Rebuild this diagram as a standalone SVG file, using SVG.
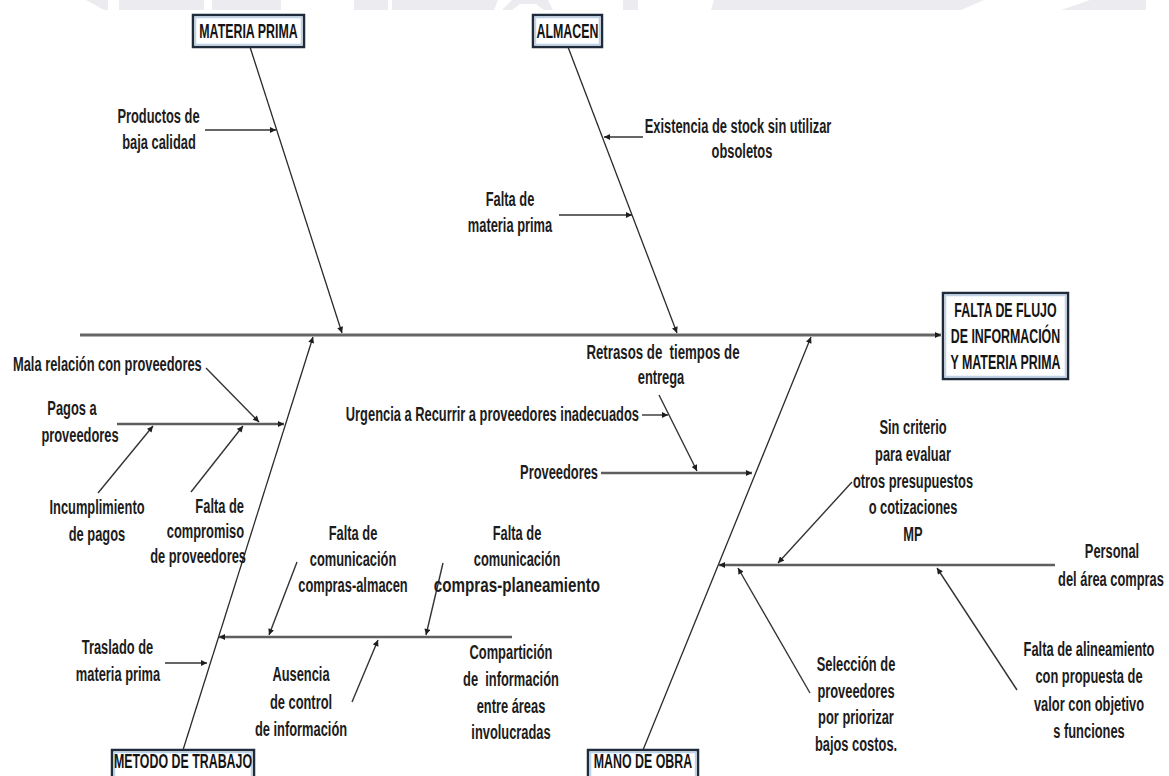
<svg xmlns="http://www.w3.org/2000/svg" width="1169" height="776" viewBox="0 0 1169 776">
  <defs>
    <marker id="ah" viewBox="0 0 10 10" refX="10" refY="5" markerWidth="7" markerHeight="6" markerUnits="userSpaceOnUse" orient="auto">
      <path d="M0,0 L10,5 L0,10 z" fill="#1e1e1e"/>
    </marker>
    <style>
      /* condensed bold labels: each text is squeezed horizontally about its anchor */
      .t { font-family: "Liberation Sans", Arial, sans-serif; font-size: 19.5px; font-weight: bold; fill: #1c1c1c; text-anchor: middle; }
      .s { text-anchor: start; }
      .e { text-anchor: end; }
      .h { font-family: "Liberation Sans", Arial, sans-serif; font-size: 20px; font-weight: bold; fill: #141414; text-anchor: middle; }
      .box { fill: #ffffff; stroke: #1d2b3a; stroke-width: 2.5; }
      .inner { fill: none; stroke: #b9d3ec; stroke-width: 1.5; }
      .spine { stroke: #666666; stroke-width: 3; fill: none; }
      .bone { stroke: #2a2a2a; stroke-width: 1.3; fill: none; }
      .sub { stroke: #5e5e5e; stroke-width: 2.6; fill: none; }
      .arr { stroke: #333333; stroke-width: 1.4; fill: none; }
      .wm { fill: #ececf0; }
    </style>
  </defs>

  <rect width="1169" height="776" fill="#ffffff"/>

  <!-- faint header band shapes -->
  <g id="header-band">
    <polygon class="wm" points="86,0 108,0 108,10 104,10"/>
    <rect class="wm" x="119" y="0" width="85" height="10"/>
    <rect class="wm" x="212" y="0" width="69" height="10"/>
    <rect class="wm" x="354" y="0" width="34" height="10"/>
    <polygon class="wm" points="392,0 498,0 494,10 392,10"/>
    <polygon class="wm" points="502,10 512,0 548,0 553,10 544,10 536,4 520,4 512,10"/>
    <rect class="wm" x="623" y="0" width="15" height="10"/>
    <polygon class="wm" points="714,0 984,0 961,10 711,10"/>
    <polygon class="wm" points="1090,0 1146,0 1146,10 1061,10"/>
  </g>

  <!-- connectors -->
  <g id="connectors">
    <!-- main spine -->
    <line class="spine" x1="80" y1="335" x2="941" y2="335" marker-end="url(#ah)"/>
    <!-- category bones -->
    <line class="bone" x1="250" y1="47" x2="342" y2="333" marker-end="url(#ah)"/>
    <line class="bone" x1="568" y1="47" x2="677" y2="333" marker-end="url(#ah)"/>
    <line class="bone" x1="183" y1="750" x2="313" y2="337" marker-end="url(#ah)"/>
    <line class="bone" x1="643" y1="750" x2="811" y2="337" marker-end="url(#ah)"/>
    <!-- secondary branches -->
    <line class="sub" x1="117" y1="424" x2="284" y2="424" marker-end="url(#ah)"/>
    <line class="sub" x1="512" y1="637" x2="219" y2="637" marker-end="url(#ah)"/>
    <line class="sub" x1="601" y1="473" x2="752" y2="473" marker-end="url(#ah)"/>
    <line class="sub" x1="1055" y1="565" x2="719" y2="565" marker-end="url(#ah)"/>
    <!-- cause arrows -->
    <line class="arr" x1="205" y1="130" x2="276" y2="130" marker-end="url(#ah)"/>
    <line class="arr" x1="643" y1="137" x2="604" y2="137" marker-end="url(#ah)"/>
    <line class="arr" x1="559" y1="215" x2="632" y2="215" marker-end="url(#ah)"/>
    <line class="arr" x1="206" y1="368" x2="259" y2="422" marker-end="url(#ah)"/>
    <line class="arr" x1="98" y1="493" x2="153" y2="426" marker-end="url(#ah)"/>
    <line class="arr" x1="191" y1="492" x2="243" y2="426" marker-end="url(#ah)"/>
    <line class="arr" x1="165" y1="663" x2="207" y2="663" marker-end="url(#ah)"/>
    <line class="arr" x1="297" y1="562" x2="269" y2="635" marker-end="url(#ah)"/>
    <line class="arr" x1="443" y1="563" x2="426" y2="635" marker-end="url(#ah)"/>
    <line class="arr" x1="352" y1="702" x2="378" y2="640" marker-end="url(#ah)"/>
    <line class="arr" x1="642" y1="415" x2="668" y2="415" marker-end="url(#ah)"/>
    <line class="arr" x1="659" y1="395" x2="697" y2="471" marker-end="url(#ah)"/>
    <line class="arr" x1="852" y1="482" x2="778" y2="563" marker-end="url(#ah)"/>
    <line class="arr" x1="810" y1="693" x2="738" y2="568" marker-end="url(#ah)"/>
    <line class="arr" x1="1017" y1="690" x2="937" y2="568" marker-end="url(#ah)"/>
  </g>

  <!-- category headers -->
  <g id="materia-prima">
    <rect class="box" x="193" y="15" width="111" height="32"/>
    <rect class="inner" x="195.5" y="17.5" width="106" height="27"/>
    <text class="h" x="248.5" y="38.5" transform="matrix(0.62 0 0 1 94.43 0)">MATERIA PRIMA</text>
  </g>
  <g id="almacen">
    <rect class="box" x="533" y="15" width="69" height="32"/>
    <rect class="inner" x="535.5" y="17.5" width="64" height="27"/>
    <text class="h" x="567.5" y="38.5" transform="matrix(0.62 0 0 1 215.65 0)">ALMACEN</text>
  </g>
  <g id="efecto">
    <rect class="box" x="943" y="293" width="125" height="86"/>
    <rect class="inner" x="945.5" y="295.5" width="120" height="81"/>
    <text class="h" x="1005.5" y="317" transform="matrix(0.62 0 0 1 382.09 0)">FALTA DE FLUJO</text>
    <text class="h" x="1005.5" y="343" transform="matrix(0.62 0 0 1 382.09 0)">DE INFORMACIÓN</text>
    <text class="h" x="1005.5" y="369" transform="matrix(0.62 0 0 1 382.09 0)">Y MATERIA PRIMA</text>
  </g>
  <g id="metodo-de-trabajo">
    <rect class="box" x="112" y="750" width="142" height="32"/>
    <rect class="inner" x="114.5" y="752.5" width="137" height="27"/>
    <text class="h" x="183" y="768.5" transform="matrix(0.62 0 0 1 69.54 0)">METODO DE TRABAJO</text>
  </g>
  <g id="mano-de-obra">
    <rect class="box" x="588" y="750" width="110" height="32"/>
    <rect class="inner" x="590.5" y="752.5" width="105" height="27"/>
    <text class="h" x="643" y="768.5" transform="matrix(0.62 0 0 1 244.34 0)">MANO DE OBRA</text>
  </g>

  <!-- causes -->
  <g id="productos-baja-calidad">
    <text class="t" x="158.5" y="123" transform="matrix(0.66 0 0 1 53.89 0)">Productos de</text>
    <text class="t" x="159" y="149" transform="matrix(0.66 0 0 1 54.06 0)">baja calidad</text>
  </g>
  <g id="existencia-stock">
    <text class="t" x="738" y="133" transform="matrix(0.66 0 0 1 250.92 0)">Existencia de stock sin utilizar</text>
    <text class="t" x="742" y="158" transform="matrix(0.66 0 0 1 252.28 0)">obsoletos</text>
  </g>
  <g id="falta-materia-prima">
    <text class="t" x="510" y="206" transform="matrix(0.66 0 0 1 173.4 0)">Falta de</text>
    <text class="t" x="510" y="232" transform="matrix(0.66 0 0 1 173.4 0)">materia prima</text>
  </g>
  <g id="mala-relacion">
    <text class="t s" x="13" y="371" transform="matrix(0.66 0 0 1 4.42 0)">Mala relación con proveedores</text>
  </g>
  <g id="pagos-proveedores">
    <text class="t" x="72" y="415" transform="matrix(0.66 0 0 1 24.48 0)">Pagos a</text>
    <text class="t" x="80" y="442" transform="matrix(0.66 0 0 1 27.2 0)">proveedores</text>
  </g>
  <g id="incumplimiento">
    <text class="t" x="97" y="514" transform="matrix(0.66 0 0 1 32.98 0)">Incumplimiento</text>
    <text class="t" x="97" y="541" transform="matrix(0.66 0 0 1 32.98 0)">de pagos</text>
  </g>
  <g id="falta-compromiso">
    <text class="t e" x="244" y="513" transform="matrix(0.66 0 0 1 82.96 0)">Falta de</text>
    <text class="t e" x="244" y="538" transform="matrix(0.66 0 0 1 82.96 0)">compromiso</text>
    <text class="t e" x="246" y="563" transform="matrix(0.66 0 0 1 83.64 0)">de proveedores</text>
  </g>
  <g id="retrasos">
    <text class="t" x="663" y="359" transform="matrix(0.68 0 0 1 212.16 0)" xml:space="preserve">Retrasos de  tiempos de</text>
    <text class="t" x="661" y="384" transform="matrix(0.66 0 0 1 224.74 0)">entrega</text>
  </g>
  <g id="urgencia">
    <text class="t e" x="639" y="421" transform="matrix(0.66 0 0 1 217.26 0)">Urgencia a Recurrir a proveedores inadecuados</text>
  </g>
  <g id="proveedores">
    <text class="t e" x="598" y="479" transform="matrix(0.66 0 0 1 203.32 0)">Proveedores</text>
  </g>
  <g id="sin-criterio">
    <text class="t" x="913" y="434" transform="matrix(0.66 0 0 1 310.42 0)">Sin criterio</text>
    <text class="t" x="913" y="461" transform="matrix(0.66 0 0 1 310.42 0)">para evaluar</text>
    <text class="t" x="913" y="488" transform="matrix(0.66 0 0 1 310.42 0)">otros presupuestos</text>
    <text class="t" x="913" y="514" transform="matrix(0.66 0 0 1 310.42 0)">o cotizaciones</text>
    <text class="t" x="913" y="541" transform="matrix(0.66 0 0 1 310.42 0)">MP</text>
  </g>
  <g id="personal-compras">
    <text class="t" x="1112" y="558" transform="matrix(0.66 0 0 1 378.08 0)">Personal</text>
    <text class="t" x="1111" y="586" transform="matrix(0.66 0 0 1 377.74 0)">del área compras</text>
  </g>
  <g id="comunicacion-almacen">
    <text class="t" x="353" y="540" transform="matrix(0.66 0 0 1 120.02 0)">Falta de</text>
    <text class="t" x="353" y="566" transform="matrix(0.66 0 0 1 120.02 0)">comunicación</text>
    <text class="t" x="353" y="592" transform="matrix(0.66 0 0 1 120.02 0)">compras-almacen</text>
  </g>
  <g id="comunicacion-planeamiento">
    <text class="t" x="517" y="540" transform="matrix(0.66 0 0 1 175.78 0)">Falta de</text>
    <text class="t" x="517" y="566" transform="matrix(0.66 0 0 1 175.78 0)">comunicación</text>
    <text class="t" x="517" y="592" transform="matrix(0.78 0 0 1 113.74 0)">compras-planeamiento</text>
  </g>
  <g id="traslado">
    <text class="t" x="117.5" y="654" transform="matrix(0.66 0 0 1 39.95 0)">Traslado de</text>
    <text class="t" x="118" y="681" transform="matrix(0.66 0 0 1 40.12 0)">materia prima</text>
  </g>
  <g id="ausencia-control">
    <text class="t" x="301" y="681" transform="matrix(0.66 0 0 1 102.34 0)">Ausencia</text>
    <text class="t" x="301" y="709" transform="matrix(0.66 0 0 1 102.34 0)">de control</text>
    <text class="t" x="301" y="736" transform="matrix(0.66 0 0 1 102.34 0)">de información</text>
  </g>
  <g id="comparticion">
    <text class="t" x="511" y="659" transform="matrix(0.66 0 0 1 173.74 0)">Compartición</text>
    <text class="t" x="511" y="686" transform="matrix(0.66 0 0 1 173.74 0)" xml:space="preserve">de  información</text>
    <text class="t" x="511" y="713" transform="matrix(0.66 0 0 1 173.74 0)">entre áreas</text>
    <text class="t" x="511" y="739" transform="matrix(0.66 0 0 1 173.74 0)">involucradas</text>
  </g>
  <g id="seleccion-proveedores">
    <text class="t" x="856" y="671" transform="matrix(0.66 0 0 1 291.04 0)">Selección de</text>
    <text class="t" x="856" y="698" transform="matrix(0.66 0 0 1 291.04 0)">proveedores</text>
    <text class="t" x="856" y="724" transform="matrix(0.66 0 0 1 291.04 0)">por priorizar</text>
    <text class="t" x="856" y="751" transform="matrix(0.66 0 0 1 291.04 0)">bajos costos.</text>
  </g>
  <g id="falta-alineamiento">
    <text class="t" x="1089" y="656" transform="matrix(0.66 0 0 1 370.26 0)">Falta de alineamiento</text>
    <text class="t" x="1089" y="683" transform="matrix(0.66 0 0 1 370.26 0)">con propuesta de</text>
    <text class="t" x="1089" y="711" transform="matrix(0.66 0 0 1 370.26 0)">valor con objetivo</text>
    <text class="t" x="1089" y="738" transform="matrix(0.66 0 0 1 370.26 0)">s funciones</text>
  </g>
</svg>
